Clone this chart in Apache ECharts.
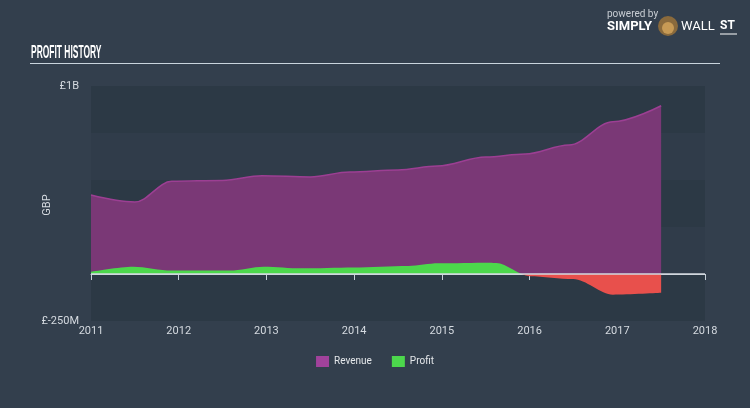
<!DOCTYPE html>
<html>
<head>
<meta charset="utf-8">
<script src="https://cdn.jsdelivr.net/npm/echarts@6/dist/echarts.min.js"></script>
<style>
html,body{margin:0;padding:0;background:#333f4d;}
#c{width:750px;height:408px;}
</style>
</head>
<body>
<div id="c"></div>
<script>
// Decimal years (x) and values in GBP millions
var revenueX = [2011.0, 2011.5, 2011.92, 2012.5, 2012.95, 2013.5, 2013.95, 2014.5, 2014.95, 2015.5, 2015.95, 2016.45, 2016.95, 2017.5];
var revenueY = [420, 383, 493, 498, 523, 516, 542, 553, 574, 622, 638, 686, 810, 895];
var profitX = [2011.0, 2011.48, 2011.92, 2012.58, 2012.97, 2013.4, 2013.99, 2014.62, 2014.96, 2015.55, 2015.62, 2016.0, 2016.5, 2016.95, 2017.5];
var profitY = [12, 39, 18, 18, 39, 30, 35, 43, 57, 60, 58, -12, -27, -110, -100];
var yearTicks = [2011, 2012, 2013, 2014, 2015, 2016, 2017, 2018];
var yMin = -250, yMax = 1000;
var seriesNames = ['Revenue', 'Profit'];

function pairs(xs, ys){ return xs.map(function(x,i){ return [x, ys[i]]; }); }

var chart = echarts.init(document.getElementById('c'));
var axisCol = '#c6cfd8';
var labelCol = '#d5dae0';
var font = 'Roboto, "Open Sans", sans-serif';

chart.setOption({
  backgroundColor: '#333f4d',
  animation: false,
  grid: {left: 91, right: 45, top: 86, bottom: 87},
  xAxis: {
    type: 'value', min: yearTicks[0], max: yearTicks[yearTicks.length-1], interval: 1,
    axisLine: {lineStyle: {color: axisCol, width: 1}},
    axisTick: {show: true, length: 6, lineStyle: {color: axisCol}},
    axisLabel: {color: labelCol, fontSize: 11, fontFamily: font, margin: 5, formatter: function(v){ return String(v); }},
    splitLine: {show: false}
  },
  yAxis: {
    type: 'value', min: yMin, max: yMax, interval: 250,
    axisLine: {show: false}, axisTick: {show: false},
    axisLabel: {color: labelCol, fontSize: 11, fontFamily: font, margin: 12,
      formatter: function(v){ if (v === yMax) return '£1B'; if (v === yMin) return '£-250M'; return ''; }},
    splitLine: {show: false},
    splitArea: {show: true, areaStyle: {color: ['rgba(30,42,54,0.30)', 'rgba(30,42,54,0.12)']}}
  },
  legend: {
    data: seriesNames, left: 'center', top: 351, icon: 'rect', itemWidth: 13, itemHeight: 11, itemGap: 20,
    textStyle: {color: '#e4e7ea', fontSize: 10, fontFamily: font}
  },
  visualMap: {
    show: false, type: 'piecewise', seriesIndex: 1, dimension: 1,
    pieces: [{gte: yMin, lt: 0, color: '#e8504c'}, {gte: 0, lte: yMax, color: '#4cd74c'}],
    outOfRange: {color: '#4cd74c'}
  },
  series: [
    {
      name: seriesNames[0], type: 'line', data: pairs(revenueX, revenueY),
      smooth: 0.35, smoothMonotone: 'x', symbol: 'none',
      itemStyle: {color: '#a1429b'},
      lineStyle: {color: '#9c3f93', width: 1.5},
      areaStyle: {color: '#7a3876', opacity: 1},
      z: 2
    },
    {
      name: seriesNames[1], type: 'line', data: pairs(profitX, profitY),
      smooth: 0.3, smoothMonotone: 'x', symbol: 'none',
      itemStyle: {color: '#4cd74c'},
      lineStyle: {width: 0},
      areaStyle: {opacity: 1},
      z: 3,
      markLine: {
        silent: true, symbol: ['none', 'none'], label: {show: false},
        lineStyle: {color: '#d3d9df', width: 1.5, type: 'solid'},
        data: [{yAxis: 0}]
      }
    }
  ],
  graphic: [
    {type: 'text', left: 31, top: 44, scaleX: 0.47, style: {text: 'PROFIT HISTORY', fill: '#ffffff', font: 'bold 18px "Liberation Sans", sans-serif'}},
    {type: 'line', shape: {x1: 30, y1: 63.5, x2: 720, y2: 63.5}, style: {stroke: '#c9d4dd', lineWidth: 1.2}},
    {type: 'text', x: 47, y: 205, rotation: Math.PI / 2, style: {text: 'GBP', fill: labelCol, font: '11px ' + font, align: 'center', verticalAlign: 'middle'}},
    {type: 'text', left: 607, top: 9, style: {text: 'powered by', fill: '#c9ced4', font: '10px ' + font}},
    {type: 'text', left: 607, top: 20, style: {text: 'SIMPLY', fill: '#ffffff', font: 'bold 13px ' + font}},
    {type: 'circle', shape: {cx: 668, cy: 26, r: 10}, style: {fill: '#8a6a3c'}},
    {type: 'circle', shape: {cx: 668, cy: 28, r: 6}, style: {fill: '#c79a55'}},
    {type: 'text', left: 681, top: 20, style: {text: 'WALL', fill: '#ffffff', font: '13px ' + font}},
    {type: 'text', left: 720, top: 20, style: {text: 'ST', fill: '#ffffff', font: 'bold 12px ' + font}},
    {type: 'line', shape: {x1: 720, y1: 34, x2: 737, y2: 34}, style: {stroke: '#ffffff', lineWidth: 1}}
  ]
});
</script>
</body>
</html>
